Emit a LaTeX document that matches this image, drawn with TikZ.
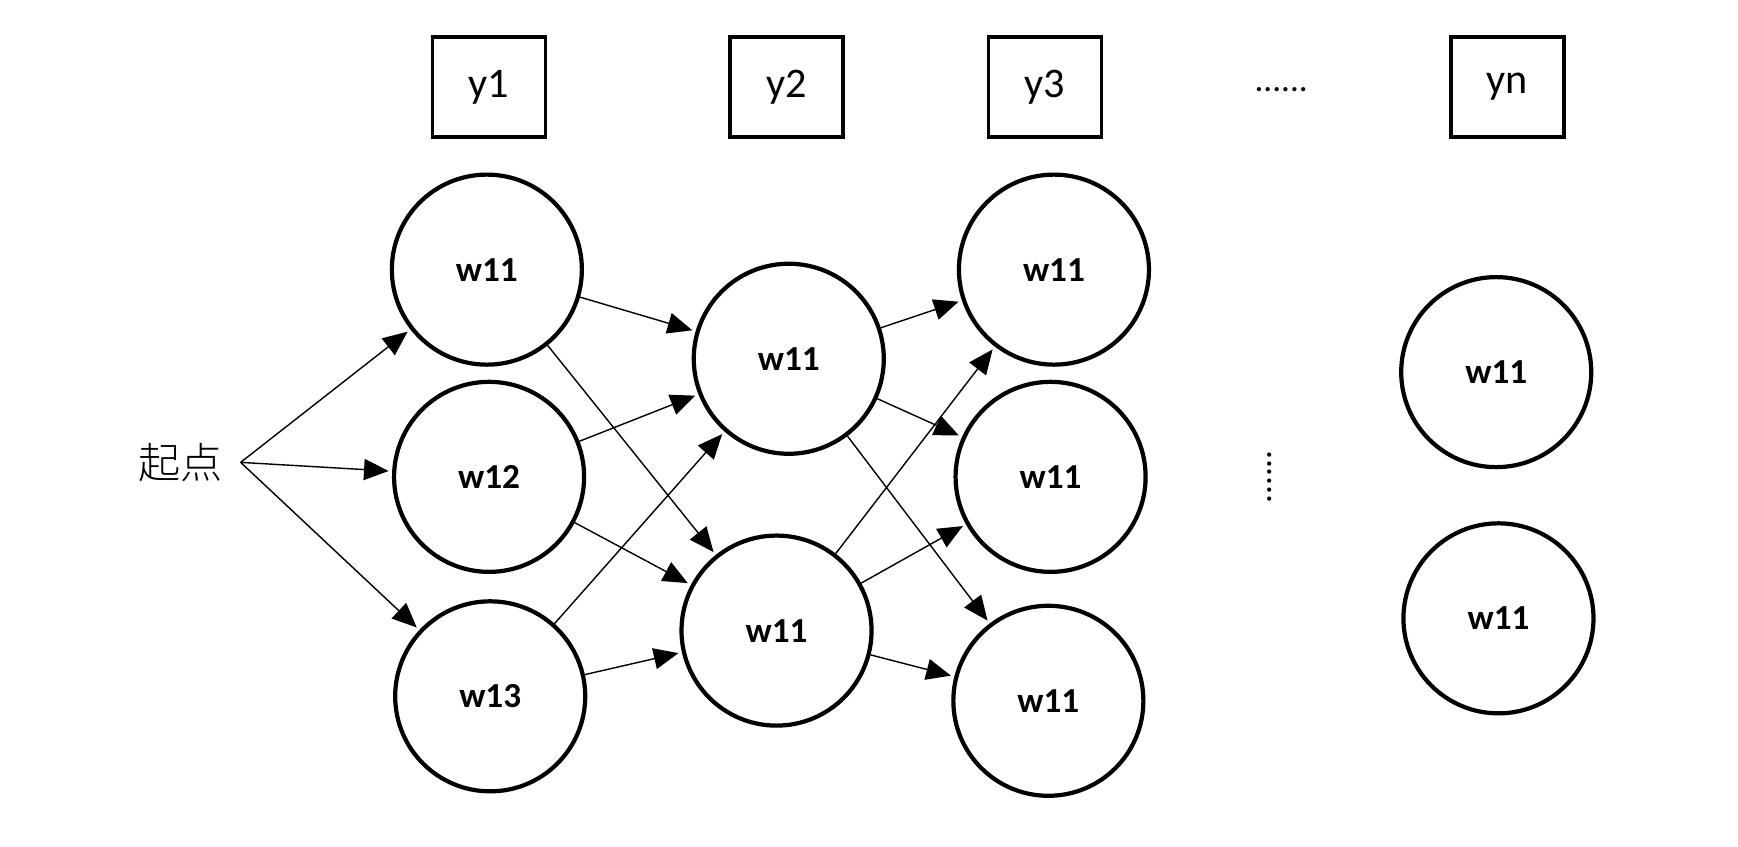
\documentclass[tikz,border=0pt]{standalone}
\usepackage{fontspec}
\setmainfont{Carlito}
\newfontfamily\cjk{Noto Sans CJK SC Light}
\usetikzlibrary{calc,arrows.meta,positioning}
\tikzset{%
    state/.style={%
        circle, draw, line width=1.2pt, minimum size=1.9cm, font=\bfseries
    },
    label_box/.style={%
        rectangle, draw, line width=1pt, minimum width=1.13cm, minimum height=1cm, font=\large
    },
    trans/.style={%
        -{Triangle[length=7pt,width=6pt]}, thin, shorten >=1pt
    },
}
\begin{document}
\begin{tikzpicture}[x=0.01114cm,y=-0.01114cm]
    \useasboundingbox (0,0) rectangle (1560,759.5);

    \node[label_box] (y1) at (439,78) {y1};
    \node[label_box] (y2) at (706,78) {y2};
    \node[label_box] (y3) at (938,78) {y3};
    \node[label_box] (yn) at (1353,78) {yn};
    \node (hdots) at (1150,80) {......};
    \node[rotate=90] (vdots) at (1140,428) {......};

    \node[font=\cjk\large] (start) at (162,415) {起点};

    \node[state] (a1) at (437,242) {w11};
    \node[state] (a2) at (439,428) {w12};
    \node[state] (a3) at (440,625) {w13};
    \node[state] (b1) at (708,322) {w11};
    \node[state] (b2) at (697,566) {w11};
    \node[state] (c1) at (946,242) {w11};
    \node[state] (c2) at (943,428) {w11};
    \node[state] (c3) at (941,629) {w11};
    \node[state] (d1) at (1343,334) {w11};
    \node[state] (d2) at (1345,555) {w11};

    \foreach \x in {a1,a2,a3}
        \draw [trans] ($(start.east)+(5,0)$) -- (\x);

    \foreach \x in {a1,a2,a3}
        \foreach \y in {b1,b2}
            \draw [trans] (\x) -- (\y);

    \foreach \x in {b1,b2}
        \foreach \y in {c1,c2,c3}
            \draw [trans] (\x) -- (\y);
\end{tikzpicture}
\end{document}
